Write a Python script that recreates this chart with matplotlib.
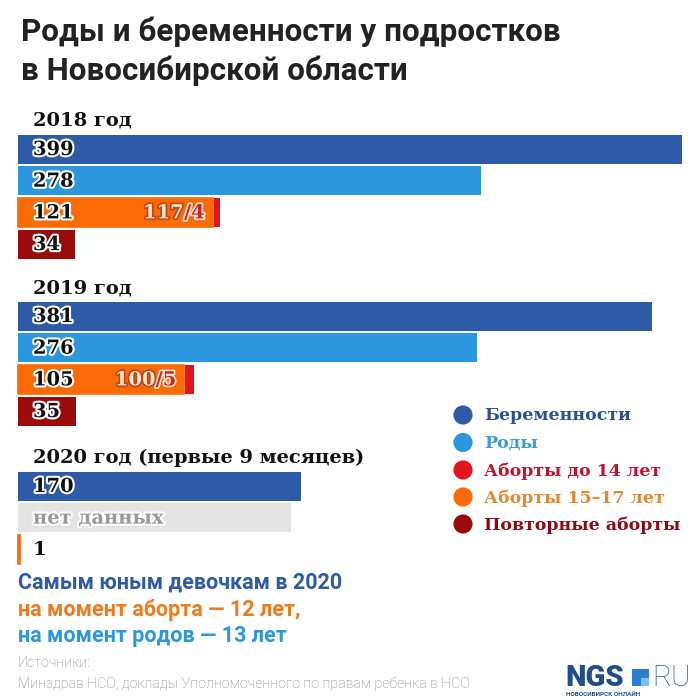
import matplotlib.pyplot as plt
import matplotlib.patheffects as pe
from matplotlib.patches import Rectangle

# data
years = ['2018 год', '2019 год', '2020 год (первые 9 месяцев)']
pregnancies = [399, 381, 170]
births = [278, 276, None]            # None -> "нет данных"
abort_15_17 = [117, 100, 1]
abort_under14 = [4, 5, 0]
abort_labels = ['121', '105', '1']
split_labels = [('117', '/4'), ('100', '/5'), None]
repeat_abort = [34, 35, None]
nodata_len = 164

legend_labels = ['Беременности', 'Роды', 'Аборты до 14 лет', 'Аборты 15–17 лет', 'Повторные аборты']

C_PREG = '#2E5BA8'
C_BIRTH = '#2A97DE'
C_U14 = '#E3141E'
C_1517 = '#FA6B05'
C_REP = '#9B0B0B'
C_GRAY = '#E3E3E3'
legend_colors = [C_PREG, C_BIRTH, C_U14, C_1517, C_REP]
legend_text_colors = ['#2D4F8F', '#3A9AD9', '#C8102E', '#E8872A', '#8B0A14']

W = H = 700
fig = plt.figure(figsize=(7, 7), dpi=100)
ax = fig.add_axes([0, 0, 1, 1])
ax.axis('off')

# x in data units (0 at pixel 18, 399 at pixel 682), y in pixels from the top
scale = (682 - 18) / 399
x0 = 18
ax.set_xlim(-x0 / scale, (W - x0) / scale)
ax.set_ylim(H, 0)


def put(xp, yp, s, **kw):
    return fig.text(xp / W, 1 - yp / H, s, **kw)


slab = ['DejaVu Serif']
outline = [pe.withStroke(linewidth=3, foreground='white')]

# title
put(21, 32, 'Роды и беременности у подростков', fontsize=22.6, fontweight='bold',
    family='Roboto', color='#222222', va='center')
put(21, 71, 'в Новосибирской области', fontsize=22.6, fontweight='bold',
    family='Roboto', color='#222222', va='center')

header_y = [121, 288, 458]
pitch = 31.7
bh = 29

for i, yr in enumerate(years):
    hy = header_y[i]
    put(33, hy, yr, fontsize=14, fontweight='bold', family=slab,
        color='#111111', va='center')
    rows = [hy + 28 + k * pitch for k in range(4)]

    # pregnancies
    ax.barh(rows[0], pregnancies[i], height=bh, left=0, color=C_PREG, edgecolor='none')
    put(33, rows[0] + 1, str(pregnancies[i]), fontsize=14, fontweight='bold',
        family=slab, color='#111111', va='center', path_effects=outline)

    # births
    if births[i] is not None:
        ax.barh(rows[1], births[i], height=bh, left=0, color=C_BIRTH, edgecolor='none')
        put(33, rows[1] + 1, str(births[i]), fontsize=14, fontweight='bold',
            family=slab, color='#111111', va='center', path_effects=outline)
    else:
        ax.barh(rows[1], nodata_len, height=bh, left=0, color=C_GRAY, edgecolor='none')
        put(33, rows[1] + 1, 'нет данных', fontsize=14, fontweight='bold',
            family=slab, color='#9A9A9A', va='center', path_effects=outline)

    # abortions
    ax.barh(rows[2], abort_15_17[i], height=bh, left=0, color=C_1517,
            edgecolor=C_1517, linewidth=1.2)
    if abort_under14[i]:
        ax.barh(rows[2], abort_under14[i], height=bh, left=abort_15_17[i] + 0.6,
                color=C_U14, edgecolor='none')
    if split_labels[i] is None:
        put(33, rows[2] + 1, abort_labels[i], fontsize=14, fontweight='bold',
            family=slab, color='#111111', va='center')
    else:
        put(33, rows[2] + 1, abort_labels[i], fontsize=14, fontweight='bold',
            family=slab, color='#111111', va='center', path_effects=outline)
        right = x0 + abort_15_17[i] * scale - 8
        t2 = put(right, rows[2] + 1, split_labels[i][1], fontsize=14, fontweight='bold',
                 family=slab, color='#D4202A', va='center', ha='right',
                 path_effects=[pe.withStroke(linewidth=2.5, foreground='#FFE6CC')])
        fig.canvas.draw()
        bb = t2.get_window_extent()
        put(bb.x0, rows[2] + 1, split_labels[i][0], fontsize=14, fontweight='bold',
            family=slab, color='#FFE6CC', va='center', ha='right',
            path_effects=[pe.withStroke(linewidth=2.5, foreground='#C0451A')])

    # repeat abortions
    if repeat_abort[i] is not None:
        ax.barh(rows[3], repeat_abort[i], height=bh, left=0, color=C_REP, edgecolor='none')
        put(33, rows[3] + 1, str(repeat_abort[i]), fontsize=14, fontweight='bold',
            family=slab, color='#111111', va='center', path_effects=outline)

# legend
leg_y = [415, 442.5, 470, 497, 524]
for k, lab in enumerate(legend_labels):
    ax.scatter((463 - x0) / scale, leg_y[k], s=190, color=legend_colors[k],
               edgecolor='none', zorder=3)
    put(484, leg_y[k] + 1, lab, fontsize=12.5, fontweight='bold', family=slab,
        color=legend_text_colors[k], va='center')

# note
put(18, 583, 'Самым юным девочкам в 2020', fontsize=15.5, fontweight='bold',
    family='Roboto', color='#2E5BA8', va='center')
put(18, 610, 'на момент аборта — 12 лет,', fontsize=15.5, fontweight='bold',
    family='Roboto', color='#F07A1E', va='center')
put(18, 636, 'на момент родов — 13 лет', fontsize=15.5, fontweight='bold',
    family='Roboto', color='#2A97DE', va='center')

# sources
put(18, 663, 'Источники:', fontsize=10.3, fontweight='light', family='Roboto',
    color='#858585', va='center')
put(18, 684, 'Минздрав НСО, доклады Уполномоченного по правам ребенка в НСО',
    fontsize=10.3, fontweight='light', family='Roboto', color='#858585', va='center')

# logo
put(565, 686, 'NGS', fontsize=21, fontweight='black', family='Roboto',
    color='#1F4E8C', va='baseline')
fig.patches.append(Rectangle((632 / W, 1 - 686 / H), 17 / W, 17 / H,
                             transform=fig.transFigure, facecolor='#2A7FD0',
                             edgecolor='none'))
fig.patches.append(Rectangle((641 / W, 1 - 686 / H), 8 / W, 8 / H,
                             transform=fig.transFigure, facecolor='#7FC2EE',
                             edgecolor='none'))
put(652, 686, 'RU', fontsize=21, fontweight='light', family='Roboto',
    color='#2A5FA0', va='baseline')
put(566, 694, 'НОВОСИБИРСК ОНЛАЙН', fontsize=4.6, fontweight='bold',
    family='Roboto', color='#1F4E8C', va='center')

plt.savefig('out.png', dpi=100)
